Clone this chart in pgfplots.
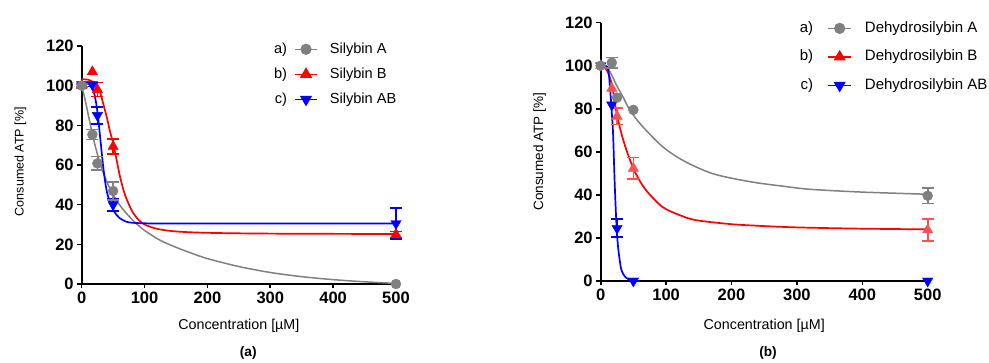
\documentclass[border=0pt]{standalone}
\usepackage{fontspec}
\setmainfont{Liberation Sans}
\usepackage{pgfplots}
\pgfplotsset{compat=1.18}
\definecolor{cgray}{RGB}{128,128,128}
\definecolor{cred}{RGB}{255,0,0}
\definecolor{cblue}{RGB}{0,0,255}
\definecolor{clred}{RGB}{255,80,80}
\newcommand{\lfa}{\fontsize{14.6}{16}\selectfont}
\newcommand{\lfb}{\fontsize{15}{16}\selectfont}
\pgfplotsset{
  gpstyle/.style={
    scale only axis, xmin=0, xmax=500, ymin=0, ymax=120,
    axis x line*=bottom, axis y line*=left,
    axis line style={line width=1.7pt, -},
    every outer x axis line/.append style={-},
    every outer y axis line/.append style={-},
    xtick={0,100,...,500}, ytick={0,20,...,120},
    tick align=outside, major tick length=4.5pt,
    every tick/.style={black, line width=1.6pt},
    tick label style={font=\bfseries\fontsize{16.5}{16}\selectfont},
    /pgf/number format/assume math mode=true,
    clip=false, anchor=south west,
    legend cell align=left,
  },
  curve/.style={line width=1.7pt, smooth, tension=0.5, no marks},
  pts/.style={only marks, mark size=#1,
    error bars/y dir=both, error bars/y explicit,
    error bars/error bar style={line width=1.6pt, solid},
    error bars/error mark options={rotate=90, line width=1.6pt, mark size=6pt, solid}},
  ptsn/.style={only marks, mark size=#1},
  legAa/.style={legend image code/.code={%
    \node[anchor=east, text=black, inner sep=0pt, font=\lfa] at (-8pt,0pt) {a)};
    \draw[cgray, line width=1.6pt, mark=*, mark size=4.8pt, mark repeat=2, mark phase=2] plot coordinates {(0pt,0pt) (11pt,0pt) (22pt,0pt)};}},
  legAb/.style={legend image code/.code={%
    \node[anchor=east, text=black, inner sep=0pt, font=\lfa] at (-8pt,0pt) {b)};
    \draw[cred, line width=1.6pt, mark=triangle*, mark size=5.5pt, mark repeat=2, mark phase=2] plot coordinates {(0pt,0pt) (11pt,0pt) (22pt,0pt)};}},
  legAc/.style={legend image code/.code={%
    \node[anchor=east, text=black, inner sep=0pt, font=\lfa] at (-8pt,0pt) {c)};
    \draw[cblue, line width=1.6pt, mark=triangle*, mark options={rotate=180}, mark size=5.5pt, mark repeat=2, mark phase=2] plot coordinates {(0pt,0pt) (11pt,0pt) (22pt,0pt)};}},
  legBa/.style={legend image code/.code={%
    \node[anchor=east, text=black, inner sep=0pt, font=\lfb] at (-15pt,0pt) {a)};
    \draw[cgray, line width=1.6pt, mark=*, mark size=4.8pt, mark repeat=2, mark phase=2] plot coordinates {(0pt,0pt) (11.5pt,0pt) (23pt,0pt)};}},
  legBb/.style={legend image code/.code={%
    \node[anchor=east, text=black, inner sep=0pt, font=\lfb] at (-15pt,0pt) {b)};
    \draw[cred, line width=1.6pt, mark=triangle*, mark size=5.5pt, mark repeat=2, mark phase=2] plot coordinates {(0pt,0pt) (11.5pt,0pt) (23pt,0pt)};}},
  legBc/.style={legend image code/.code={%
    \node[anchor=east, text=black, inner sep=0pt, font=\lfb] at (-15pt,0pt) {c)};
    \draw[cblue, line width=1.6pt, mark=triangle*, mark options={rotate=180}, mark size=5.5pt, mark repeat=2, mark phase=2] plot coordinates {(0pt,0pt) (11.5pt,0pt) (23pt,0pt)};}},
}
\begin{document}
\begin{tikzpicture}
\useasboundingbox (0,0) rectangle (989pt,363pt);
% ---------------- (a) ----------------
\begin{axis}[gpstyle, at={(81.7pt,79pt)}, width=314.3pt, height=238pt,
  xlabel={Concentration [µM]}, ylabel={Consumed ATP [\%]},
  xlabel style={at={(axis description cs:0.5,-0.190)}, anchor=base, font=\fontsize{14.3}{16}\selectfont},
  ylabel style={at={(axis description cs:-0.185,0.514)}, anchor=base, font=\fontsize{12.5}{14}\selectfont},
  legend style={at={(axis description cs:0.612,1.0155)}, anchor=north west, draw=none, fill=none,
    inner sep=0pt, outer sep=0pt, row sep=11pt, column sep=12pt,
    font=\lfa,
    nodes={inner sep=0pt, text height=11pt, text depth=3pt}},
]
\addlegendimage{legAa}
\addlegendentry{Silybin A}
\addlegendimage{legAb}
\addlegendentry{Silybin B}
\addlegendimage{legAc}
\addlegendentry{Silybin AB}
% curves
\addplot[curve, cgray, line width=1.5pt, forget plot] coordinates {
(0,100) (5,93.5) (10,86) (15,78.5) (20,71.5) (25,65.5) (30,60) (40,51.5) (50,45) (60,40) (70,36)
(85,31) (100,27) (125,22) (150,18.5) (175,15.5) (200,12.8) (250,8.8) (300,5.8) (350,3.7) (400,2.2) (450,1.1) (500,0.3)};
\addplot[curve, cred, forget plot] coordinates {
(0,103.2) (10,103) (20,101.5) (25,99.5) (30,96) (35,90) (40,84) (45,77) (50,71) (55,63.5) (60,55.5)
(65,49) (70,44) (80,36.8) (90,32.5) (100,30) (120,27.8) (150,26.5) (200,25.8) (300,25.4) (500,25.2)};
\addplot[curve, cblue, forget plot] coordinates {
(0,101.5) (10,101.3) (15,100) (20,96) (25,87) (30,72) (35,57) (40,46.5) (45,41.5) (50,37.5)
(55,35) (60,33.3) (70,31.5) (80,30.9) (100,30.6) (150,30.5) (500,30.5)};
% data: Silybin AB
\addplot[ptsn=6pt, mark=triangle*, mark options={rotate=180}, cblue, forget plot] coordinates {(0,100.5)};
\addplot[pts=6pt, mark=triangle*, mark options={rotate=180}, cblue, forget plot] table[x=x, y=y, y error=e] {
x y e
17 100.5 1
25 85 4.2
50 40 3.2
500 30.5 7.7
};
% data: Silybin B
\addplot[ptsn=6pt, mark=triangle*, cred, forget plot] coordinates {(0,100) (17,107)};
\addplot[pts=6pt, mark=triangle*, cred, forget plot] table[x=x, y=y, y error=e] {
x y e
25 98 3.5
50 69.3 3.8
500 25 1.5
};
% data: Silybin A
\addplot[ptsn=5pt, mark=*, cgray, forget plot] coordinates {(500,0)};
\addplot[pts=5pt, mark=*, cgray, forget plot] table[x=x, y=y, y error=e] {
x y e
0 100 0.8
17 75.3 2.5
25 60.8 3.4
50 46.9 4.6
};
\end{axis}
% ---------------- (b) ----------------
\begin{axis}[gpstyle, at={(600.7pt,82pt)}, width=327pt, height=258.3pt,
  xlabel={Concentration [µM]}, ylabel={Consumed ATP [\%]},
  xlabel style={at={(axis description cs:0.5,-0.186)}, anchor=base, font=\fontsize{14.3}{16}\selectfont},
  ylabel style={at={(axis description cs:-0.176,0.5)}, anchor=base, font=\fontsize{13.5}{15}\selectfont},
  legend style={at={(axis description cs:0.609,1.007)}, anchor=north west, draw=none, fill=none,
    inner sep=0pt, outer sep=0pt, row sep=13.5pt, column sep=13pt,
    font=\lfb,
    nodes={inner sep=0pt, text height=11.5pt, text depth=3.5pt}},
]
\addlegendimage{legBa}
\addlegendentry{Dehydrosilybin A}
\addlegendimage{legBb}
\addlegendentry{Dehydrosilybin B}
\addlegendimage{legBc}
\addlegendentry{Dehydrosilybin AB}
% curves
\addplot[curve, cgray, line width=1.5pt, forget plot] coordinates {
(0,100) (5,99.8) (12.7,98) (25,90.5) (35,85) (43,80.2) (55,75) (70,69.8) (95,62.3) (120,57) (145,53.1)
(170,50) (196,48) (237,45.7) (280,44) (320,42.6) (400,41.3) (500,40.3)};
\addplot[curve, cred, forget plot] coordinates {
(0,100) (5,99.5) (8,98.5) (12.7,95.7) (17.8,90.3) (21.5,83) (25.5,76.3) (33,67) (43,57.7) (53.5,50)
(69,42.3) (94,34.5) (120,30.7) (145,28.3) (196,26.5) (237,25.7) (300,24.9) (400,24.3) (500,24)};
\addplot[curve, cblue, forget plot] coordinates {
(0,100) (5,100) (10,99.5) (12.5,96) (15.3,85.6) (17,78) (18.9,68.6) (21.4,45.4) (24,26.8) (26.5,16)
(30.6,6.6) (34,3.5) (38.2,1.7) (44,0.6) (50,0.2) (60,0)};
% data: Dehydrosilybin AB
\addplot[ptsn=6pt, mark=triangle*, mark options={rotate=180}, cblue, forget plot] coordinates {(0,100) (17,81.8) (50,0) (500,0)};
\addplot[pts=6pt, mark=triangle*, mark options={rotate=180}, cblue, forget plot] table[x=x, y=y, y error=e] {
x y e
25 24.5 4.2
};
% data: Dehydrosilybin B
\addplot[ptsn=6pt, mark=triangle*, clred, forget plot] coordinates {(0,100) (17,89.5)};
\addplot[pts=6pt, mark=triangle*, clred, forget plot] table[x=x, y=y, y error=e] {
x y e
25 76.5 3.8
50 52.3 5
500 23.7 5
};
% data: Dehydrosilybin A
\addplot[ptsn=5pt, mark=*, cgray, forget plot] coordinates {(0,100) (25,85.2) (50,79.5)};
\addplot[pts=5pt, mark=*, cgray, forget plot] table[x=x, y=y, y error=e] {
x y e
17 101.4 2.5
500 39.6 3.6
};
\end{axis}
\node[font=\bfseries\fontsize{13.7}{15}\selectfont, anchor=base] at (248.3pt,6pt) {(a)};
\node[font=\bfseries\fontsize{13.7}{15}\selectfont, anchor=base] at (768pt,6pt) {(b)};
\end{tikzpicture}
\end{document}
